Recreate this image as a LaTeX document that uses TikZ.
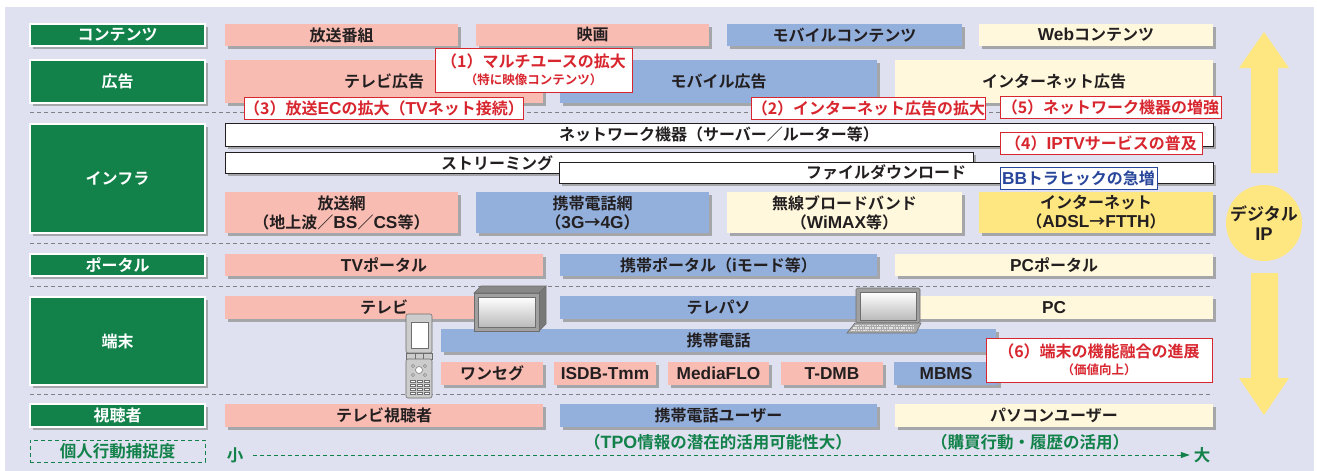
\documentclass[tikz,border=0pt]{standalone}
\usepackage{fontspec}
\setmainfont{Noto Sans CJK JP Bold}
\newfontfamily\latfont[Scale=1.08]{Liberation Sans Bold}
\newcommand\lsf[1]{{\latfont #1}}
\usetikzlibrary{shadows,arrows.meta}

\definecolor{bgl}{RGB}{223,224,240}
\definecolor{leaf}{RGB}{18,130,74}
\definecolor{rose}{RGB}{249,188,178}
\definecolor{sky}{RGB}{147,176,221}
\definecolor{creme}{RGB}{255,248,220}
\definecolor{butter}{RGB}{254,230,128}
\definecolor{alert}{RGB}{216,38,47}
\definecolor{navy}{RGB}{40,70,155}
\definecolor{shade}{RGB}{165,166,170}
\definecolor{sepgray}{RGB}{128,130,134}
\definecolor{ink}{RGB}{35,31,32}
\definecolor{devline}{RGB}{110,110,110}
\definecolor{devbody}{RGB}{160,160,160}

% a box spanning two corner points, with its label centred
\newcommand\tilebox[7]{\node[#2, minimum width={(#5-#3)*1pt}, minimum height={(#6-#4)*1pt}]
  (#1) at ({(#3+#5)/2},{(#4+#6)/2}) {#7};}

\begin{document}
\begin{tikzpicture}[x=1pt,y=-1pt,
  base/.style={inner sep=0pt, outer sep=0pt, align=center, text=ink,
    font=\fontsize{16}{19}\selectfont},
  tile/.style={base, general shadow={fill=shade, shadow xshift=3pt, shadow yshift=-3pt}},
  pinkbox/.style={tile, fill=rose},
  bluebox/.style={tile, fill=sky},
  creambox/.style={tile, fill=creme},
  yellbox/.style={tile, fill=butter},
  linebox/.style={tile, fill=white, draw=ink, line width=0.8pt},
  gbox/.style={tile, fill=leaf, draw=white, line width=1.5pt, text=white},
  callout/.style={base, fill=white, draw=alert, line width=1pt, text=alert},
  bluecall/.style={base, fill=white, draw=navy, line width=1pt, text=navy},
  sep/.style={draw=sepgray, line width=1pt, dash pattern=on 4pt off 3pt},
  gtext/.style={base, text=leaf, font=\fontsize{16.5}{19}\selectfont},
  gdash/.style={draw=leaf, line width=1pt, dash pattern=on 4pt off 3pt}
]
\useasboundingbox (0,0) rectangle (1317,471);
\fill[white] (0,0) rectangle (1317,471);
\fill[bgl] (5,7) rectangle (1314,471);

% layer separators
\draw[sep] (30,112) -- (1213,112);
\draw[sep] (30,243) -- (1213,243);
\draw[sep] (30,286) -- (1213,286);
\draw[sep] (30,394) -- (1213,394);

% contents
\tilebox{lcont}{gbox}{30}{24}{205}{46}{コンテンツ}
\tilebox{bangumi}{pinkbox}{225}{24}{458}{46}{放送番組}
\tilebox{eiga}{pinkbox}{476}{24}{709}{46}{映画}
\tilebox{mobcont}{bluebox}{727}{24}{962}{46}{モバイルコンテンツ}
\tilebox{webcont}{creambox}{979}{24}{1213}{46}{\lsf{Web}コンテンツ}

% advertising
\tilebox{lad}{gbox}{30}{60}{205}{103}{広告}
\tilebox{tvad}{pinkbox}{225}{60}{543}{103}{テレビ広告}
\tilebox{mobad}{bluebox}{560}{60}{877}{103}{モバイル広告}
\tilebox{netad}{creambox}{895}{60}{1213}{103}{インターネット広告}

% infrastructure
\tilebox{linfra}{gbox}{30}{124}{205}{233}{インフラ}
\tilebox{netdev}{linebox}{225}{123}{1213}{146}{ネットワーク機器（サーバー／ルーター等）}
\tilebox{stream}{linebox}{225}{152}{973}{173}{}
\node[base] (streamtxt) at (497,163) {ストリーミング};
\tilebox{download}{linebox}{559}{162}{1213}{183}{ファイルダウンロード}
\tilebox{bcnet}{pinkbox}{225}{192}{458}{233}{放送網\\（地上波／\lsf{BS}／\lsf{CS}等）}
\tilebox{mobnet}{bluebox}{476}{192}{709}{233}{携帯電話網\\（\lsf{3G}→\lsf{4G}）}
\tilebox{wimax}{creambox}{727}{192}{962}{233}{無線ブロードバンド\\（\lsf{WiMAX}等）}
\tilebox{inet}{yellbox}{979}{192}{1213}{233}{インターネット\\（\lsf{ADSL}→\lsf{FTTH}）}

% portals
\tilebox{lportal}{gbox}{30}{254}{205}{276}{ポータル}
\tilebox{tvportal}{pinkbox}{225}{254}{543}{276}{\lsf{TV}ポータル}
\tilebox{mobportal}{bluebox}{560}{254}{877}{276}{携帯ポータル（\lsf{i}モード等）}
\tilebox{pcportal}{creambox}{895}{254}{1213}{276}{\lsf{PC}ポータル}

% terminals
\tilebox{lterm}{gbox}{30}{297}{205}{385}{端末}
\tilebox{tv}{pinkbox}{225}{296}{543}{319}{テレビ}
\tilebox{telepaso}{bluebox}{560}{296}{877}{319}{テレパソ}
\tilebox{pc}{creambox}{895}{296}{1213}{319}{\lsf{PC}}
\tilebox{keitai}{bluebox}{441}{329}{996}{352}{携帯電話}
\tilebox{oneseg}{pinkbox}{441}{362}{543}{385}{ワンセグ}
\tilebox{isdb}{pinkbox}{554}{362}{656}{385}{\lsf{ISDB-Tmm}}
\tilebox{mflo}{pinkbox}{668}{362}{769}{385}{\lsf{MediaFLO}}
\tilebox{tdmb}{pinkbox}{781}{362}{883}{385}{\lsf{T-DMB}}
\tilebox{mbms}{bluebox}{894}{362}{998}{385}{\lsf{MBMS}}

% audiences
\tilebox{lview}{gbox}{30}{404}{205}{427}{視聴者}
\tilebox{tvview}{pinkbox}{225}{404}{543}{427}{テレビ視聴者}
\tilebox{mobuser}{bluebox}{560}{404}{877}{427}{携帯電話ユーザー}
\tilebox{pcuser}{creambox}{895}{404}{1213}{427}{パソコンユーザー}

% television set
\filldraw[fill=devbody!85!black, draw=devline, line width=0.6pt]
  (474,293) -- (481,286) -- (546,286) -- (539,293) -- cycle;
\filldraw[fill=devbody!75!black, draw=devline, line width=0.6pt]
  (539,293) -- (546,286) -- (546,324) -- (539,331) -- cycle;
\filldraw[fill=devbody, draw=devline, line width=0.6pt] (474,293) rectangle (539,331);
\shade[top color=white, bottom color=black!27] (478,297) rectangle (535,327);
\draw[devline, line width=0.4pt] (478,297) rectangle (535,327);

% notebook computer
\filldraw[fill=devbody, draw=devline, line width=0.6pt, rounded corners=1.5pt]
  (856,288) rectangle (920,323);
\shade[top color=white, bottom color=black!27] (860,292) rectangle (916,320);
\draw[devline, line width=0.4pt] (860,292) rectangle (916,320);
\filldraw[fill=devbody!90!white, draw=devline, line width=0.6pt]
  (855,323) -- (921,323) -- (916,333) -- (847,333) -- cycle;
\foreach \r in {325.5,328,330.5}
  \draw[white!80!devline, line width=1.2pt, dash pattern=on 1.6pt off 0.8pt]
    ({857-(\r-323)*0.8},\r) -- ({916-(\r-323)*0.5},\r);

% mobile phone
\filldraw[fill=black!20, draw=devline, line width=0.6pt, rounded corners=2pt]
  (406,314) rectangle (432,353);
\filldraw[fill=white, draw=devline, line width=0.5pt] (411,322) rectangle (428,348);
\filldraw[fill=black!20, draw=devline, line width=0.5pt] (406,353) rectangle (432,359);
\draw[devline, line width=0.5pt] (415,353) -- (415,359) (423,353) -- (423,359);
\filldraw[fill=black!20, draw=devline, line width=0.6pt, rounded corners=2pt]
  (406,359) rectangle (432,398);
\filldraw[fill=white, draw=devline, line width=0.5pt] (419,370) circle (3.5);
\foreach \px/\py in {413/366,425/366,413/375,425/375}
  \filldraw[fill=white, draw=devline, line width=0.4pt] (\px,\py) circle (1.5);
\foreach \py in {380,384,388,392}
  \foreach \px in {410,417,424}
    \filldraw[fill=white, draw=devline, line width=0.4pt] (\px,\py) rectangle ({\px+5},{\py+2.5});

% initiatives
\tilebox{multi}{callout}{435}{48}{632}{92}{（1）マルチユースの拡大\\[-2pt]{\fontsize{12.5}{15}\selectfont（特に映像コンテンツ）}}
\tilebox{bcec}{callout}{246}{97}{522}{119}{（3）放送\lsf{EC}の拡大（\lsf{TV}ネット接続）}
\tilebox{netadup}{callout}{752}{97}{985}{119}{（2）インターネット広告の拡大}
\tilebox{netdevup}{callout}{1000}{96}{1221}{118}{（5）ネットワーク機器の増強}
\tilebox{iptv}{callout}{1000}{132}{1202}{154}{（4）\lsf{IPTV}サービスの普及}
\tilebox{bbtraffic}{bluecall}{1000}{167}{1157}{189}{\lsf{BB}トラヒックの急増}
\tilebox{fusion}{callout}{986}{338}{1212}{382}{（6）端末の機能融合の進展\\[-2pt]{\fontsize{12.5}{15}\selectfont（価値向上）}}

% capture of personal behaviour
\tilebox{lcapture}{gtext, draw=leaf, line width=1pt, dash pattern=on 4pt off 3pt}{30}{440}{205}{462}{個人行動捕捉度}
\node[gtext] (tpo) at (718,442) {（\lsf{TPO}情報の潜在的活用可能性大）};
\node[gtext] (buy) at (1030,442) {（購買行動・履歴の活用）};
\node[gtext] (small) at (235,455) {小};
\node[gtext] (large) at (1202,455) {大};
\draw[gdash, -{Triangle[length=9pt,width=6pt]}, shorten <=10pt, shorten >=4pt]
  (small.east) -- (large.west);

% digital IP arrows
\fill[butter] (1251,173) -- (1251,68) -- (1239,68) -- (1264,32) -- (1289,68)
  -- (1278,68) -- (1278,173) -- cycle;
\fill[butter] (1251,273) -- (1251,378) -- (1239,378) -- (1264,415) -- (1289,378)
  -- (1278,378) -- (1278,273) -- cycle;
\node[base, circle, fill=butter, minimum size=76pt, font=\fontsize{17}{20}\selectfont]
  (digip) at (1264,223) {デジタル\\\lsf{IP}};
\end{tikzpicture}
\end{document}
